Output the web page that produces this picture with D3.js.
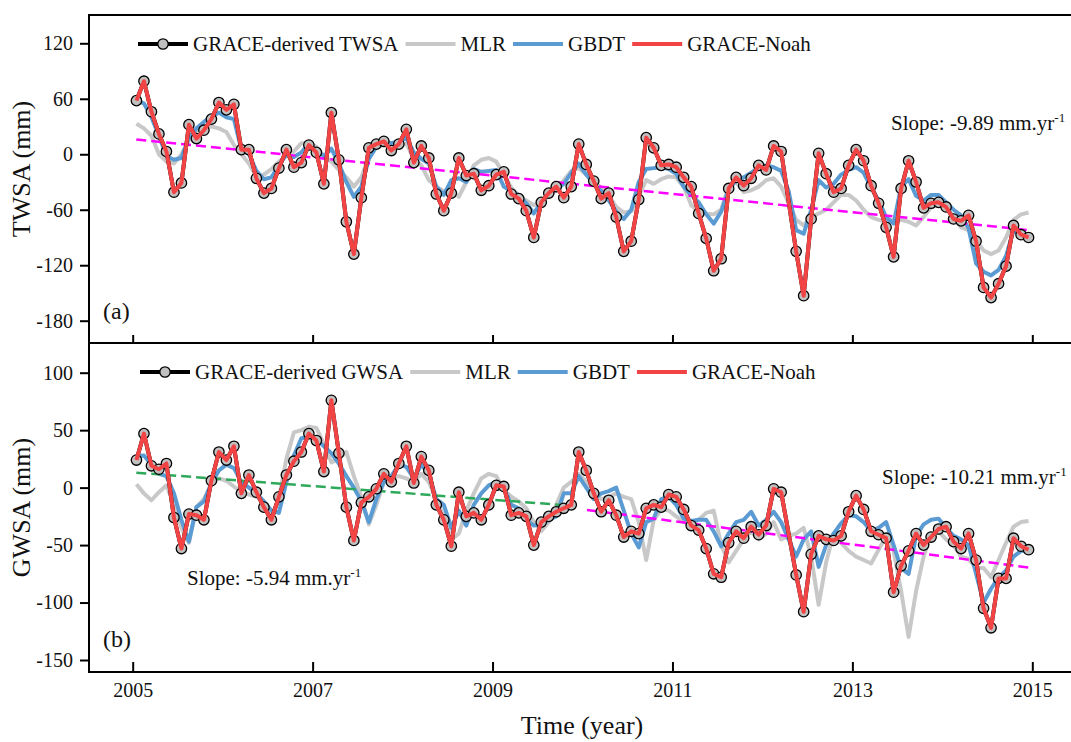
<!DOCTYPE html>
<html><head><meta charset="utf-8">
<script src="https://cdn.jsdelivr.net/npm/d3@7"></script>
<style>
html,body{margin:0;padding:0;background:#fff;}
svg{display:block;}
text{font-family:"Liberation Serif","Times New Roman",serif;fill:#111;}
</style></head>
<body><svg id="c" width="1071" height="742"></svg>
<script>
// ---------------- DATA ----------------
// monthly values Jan 2005 .. Dec 2014 (index 0..119); null = month without GRACE data
const twsaGrace = [58,79,46,22,3,-41,-31,32,17,26,38,56,48,54,5,5,-26,-42,-37,-15,5,-14,-9,10,2,-32,45,-6,-73,-108,-47,7,11,14,4,11,27,-9,9,-4,-43,-61,-42,-4,-23,-21,-39,-34,-22,-19,-43,-48,-61,-90,-52,-42,-35,-47,-35,11,-11,-29,-48,-42,-68,-105,-94,-49,18,7,-12,-11,-14,-25,-35,-64,-91,-126,-113,-37,-25,-34,-26,-12,-17,9,3,null,-105,-153,-70,1,-21,-41,-37,-12,5,-7,-34,-53,-79,-111,-37,-7,-30,-58,-53,-52,-57,-70,-72,-66,-94,-144,-155,-140,-121,-77,-87,-90];
const twsaNoah = twsaGrace.slice();
const twsaMLR = [33,28,20,0,-8,-10,0,15,25,30,30,28,24,10,0,-10,-24,-22,-16,-8,-2,3,12,12,8,-2,-8,-17,-25,-35,-25,-2,8,10,6,8,12,-5,-12,-28,-35,-40,-38,-46,-30,-12,-6,-4,-8,-22,-36,-45,-50,-55,-52,-45,-39,-28,-18,-15,-22,-30,-36,-45,-57,-63,-62,-45,-28,-32,-27,-24,-25,-35,-55,-62,-64,-65,-60,-35,-30,-41,-39,-35,-28,-26,-35,-53,-71,-77,-68,-64,-60,-52,-44,-44,-50,-60,-68,-71,-73,-71,-71,-73,-77,-68,-57,-52,-57,-68,-79,-82,-93,-104,-108,-104,-90,-71,-65,-63];
const twsaGBDT = [58,55,40,20,-2,-6,-4,18,28,35,41,45,40,38,5,0,-18,-27,-25,-12,0,-3,2,12,4,-2,6,-10,-30,-46,-35,-5,8,14,12,14,18,2,-5,-10,-35,-44,-28,-26,-30,-16,-19,-18,-17,-35,-40,-44,-53,-64,-52,-43,-38,-32,-20,-10,-22,-32,-40,-50,-62,-70,-60,-30,-16,-15,-14,-16,-21,-35,-44,-52,-65,-75,-62,-38,-28,-25,-20,-14,-12,-14,-18,-40,-82,-86,-60,-28,-36,-32,-22,-17,-14,-20,-36,-50,-68,-75,-35,-27,-45,-50,-44,-44,-52,-60,-66,-80,-118,-127,-131,-125,-110,-82,-88,-91];

const gwsaGrace = [24,47,19,16,21,-26,-53,-23,-24,-28,6,31,24,36,-5,11,-4,-17,-28,-8,11,23,31,47,41,14,76,30,-17,-46,-13,-8,-1,12,5,21,36,4,27,15,-15,-28,-51,-4,-25,-22,-28,-15,2,1,-24,-22,-25,-50,-30,-25,-21,-18,-15,31,15,-5,-21,-11,-24,-43,-38,-40,-18,-15,-17,-6,-8,-19,-33,-37,-53,-75,-78,-48,-38,-44,-34,-41,-33,-1,-4,null,-76,-108,-58,-42,-45,-46,-42,-21,-7,-19,-38,-41,-44,-91,-68,-55,-40,-50,-43,-36,-34,-47,-53,-40,-63,-105,-122,-79,-79,-44,-51,-54];
const gwsaNoah = gwsaGrace.slice();
const gwsaMLR = [3,-5,-11,-4,2,-15,-35,-48,-17,-10,3,8,6,1,-4,-6,-8,-12,-25,-10,25,48,50,53,52,38,22,25,31,10,-8,-32,-15,5,8,10,8,5,12,5,-10,-25,-45,-40,-20,-5,8,12,10,-2,-8,-12,-18,-30,-38,-30,-15,0,5,12,5,-5,-10,-8,-5,-8,-10,-30,-63,-28,-19,-20,-25,-30,-32,-28,-22,-20,-50,-65,-55,-45,-38,-45,-40,-30,-45,-42,-40,-35,-60,-102,-65,-40,-48,-55,-60,-63,-66,-54,-42,-55,-90,-130,-90,-60,-40,-38,-45,-50,-60,-62,-70,-70,-78,-63,-48,-34,-30,-29];
const gwsaGBDT = [27,28,20,12,10,-5,-28,-47,-17,-12,4,15,20,17,5,0,-5,-12,-20,-22,5,28,43,44,42,36,30,21,10,0,-12,-30,-10,5,10,20,18,8,20,12,-10,-15,-35,-20,-33,-15,-5,2,5,0,-15,-18,-28,-33,-32,-28,-25,-5,-5,10,0,-10,-5,-3,0,-20,-40,-52,-30,-27,-10,-8,-15,-27,-29,-28,-28,-38,-51,-40,-30,-28,-21,-33,-28,-21,-30,-45,-60,-45,-38,-69,-50,-40,-31,-24,-25,-30,-38,-35,-30,-50,-70,-75,-42,-32,-28,-27,-35,-42,-45,-50,-75,-100,-88,-78,-72,-60,-55,-55];

// trend lines: [startYear, startValue, endYear, endValue]
const twsaTrend = [2005.04, 16, 2014.96, -82];
const gwsaTrend1 = [2005.04, 13, 2009.87, -15.7];
const gwsaTrend2 = [2010.05, -19.4, 2014.96, -69.5];

const xTicks = [2005, 2007, 2009, 2011, 2013, 2015];
const twsaTicks = [-180, -120, -60, 0, 60, 120];
const gwsaTicks = [-150, -100, -50, 0, 50, 100];
const legendTop = ["GRACE-derived TWSA", "MLR", "GBDT", "GRACE-Noah"];
const legendBot = ["GRACE-derived GWSA", "MLR", "GBDT", "GRACE-Noah"];

// ---------------- DRAW ----------------
const times = d3.range(120).map(i => 2005 + (i + 0.5) / 12);
const svg = d3.select("#c");
svg.append("rect").attr("width",1071).attr("height",742).attr("fill","#fff");

const L = 89, R = 1076;
const x = d3.scaleLinear().domain([2005, 2015]).range([132.7, 1032.3]);

const C = {mlr:"#c8c8c8", gbdt:"#5b9bd3", red:"#f24444", marker:"#c0c0c0", mag:"#ff00ff", green:"#2ea85a"};
const pairs = arr => arr.map((v,i) => [times[i], v]).filter(p => p[1] !== null);

function panel(cfg) {
  const g = svg.append("g");
  const y = d3.scaleLinear().domain(cfg.ydom).range(cfg.yrange);
  const clipId = "clip" + cfg.id;
  svg.append("clipPath").attr("id", clipId).append("rect")
    .attr("x", L).attr("y", cfg.top).attr("width", R - L).attr("height", cfg.bottom - cfg.top);
  const pg = g.append("g").attr("clip-path", `url(#${clipId})`);
  const line = d3.line().x(p => x(p[0])).y(p => y(p[1]));

  const series = (arr, color) => pg.append("path").datum(pairs(arr)).attr("d", line).attr("fill","none")
    .attr("stroke", color).attr("stroke-width", 4).attr("stroke-linejoin","round");
  series(cfg.mlr, C.mlr);
  series(cfg.gbdt, C.gbdt);
  cfg.trends.forEach(t => {
    pg.append("line").attr("x1", x(t.v[0])).attr("y1", y(t.v[1]))
      .attr("x2", x(t.v[2])).attr("y2", y(t.v[3]))
      .attr("stroke", t.c).attr("stroke-width", 2.5).attr("stroke-dasharray","10,5");
  });
  series(cfg.grace, "#000");
  pg.selectAll("circle.m").data(pairs(cfg.grace)).join("circle").attr("class","m")
    .attr("cx", p => x(p[0])).attr("cy", p => y(p[1])).attr("r", 5.2)
    .attr("fill", C.marker).attr("stroke", "#000").attr("stroke-width", 1.3);
  series(cfg.noah, C.red);

  // y axis
  const ya = g.append("g").attr("transform", `translate(${L},0)`)
    .call(d3.axisLeft(y).tickValues(cfg.yticks).tickSize(9).tickPadding(7).tickSizeOuter(0).tickFormat(d => String(d)));
  ya.select(".domain").remove();
  ya.selectAll(".tick line").attr("stroke","#000").attr("stroke-width",2);
  ya.selectAll(".tick text").style("font-size","20px").style("font-family",'"Liberation Serif",serif').attr("fill","#111");

  // x axis (ticks inward)
  const xa = g.append("g").attr("transform", `translate(0,${cfg.bottom})`)
    .call(d3.axisBottom(x).tickValues(xTicks).tickSize(-cfg.xtick).tickPadding(10.8).tickFormat(d => String(d)).tickSizeOuter(0));
  xa.select(".domain").remove();
  xa.selectAll(".tick line").attr("stroke","#000").attr("stroke-width",2);
  xa.selectAll(".tick text").style("font-size","20px").style("font-family",'"Liberation Serif",serif').attr("fill","#111");
  if (!cfg.xlabels) xa.selectAll(".tick text").remove();

  // frame
  g.append("rect").attr("x", L).attr("y", cfg.top).attr("width", R - L).attr("height", cfg.bottom - cfg.top)
    .attr("fill","none").attr("stroke","#000").attr("stroke-width",2);

  // y title
  g.append("text").attr("transform", `translate(30,${cfg.ytitleY}) rotate(-90)`)
    .attr("text-anchor","middle").style("font-size","26px").text(cfg.ytitle);

  // panel label
  g.append("text").attr("x", 103).attr("y", cfg.labelY).style("font-size","24px").text(cfg.label);

  // legend
  const colors = ["#000", C.mlr, C.gbdt, C.red];
  let lx = cfg.legX;
  cfg.legend.forEach((name, k) => {
    const lg = g.append("g");
    lg.append("line").attr("x1", lx).attr("x2", lx + 50).attr("y1", cfg.legY).attr("y2", cfg.legY)
      .attr("stroke", colors[k]).attr("stroke-width", 4);
    if (k === 0) lg.append("circle").attr("cx", lx + 25).attr("cy", cfg.legY).attr("r", 5.2)
      .attr("fill", C.marker).attr("stroke","#000").attr("stroke-width",1.3);
    const t = lg.append("text").attr("x", lx + 55).attr("y", cfg.legY + 7).style("font-size","21px").text(name);
    lx = lx + 55 + t.node().getComputedTextLength() + 7;
  });

  // slope annotations
  cfg.slopes.forEach(s => {
    const t = g.append("text").attr("x", s.x).attr("y", s.y).style("font-size","21px");
    t.append("tspan").text(s.t);
    t.append("tspan").attr("dy", -8).style("font-size","13px").text("-1");
  });
  return y;
}

panel({id:"a", top:15, bottom:343, ydom:[-180,120], yrange:[320.7,43.3], yticks:twsaTicks,
  grace:twsaGrace, noah:twsaNoah, mlr:twsaMLR, gbdt:twsaGBDT,
  trends:[{v:twsaTrend, c:C.mag}], xtick:8, xlabels:false,
  ytitle:"TWSA (mm)", ytitleY:169, label:"(a)", labelY:319, legend:legendTop, legX:138, legY:44,
  slopes:[{x:891, y:130, t:"Slope: -9.89 mm.yr"}]});

panel({id:"b", top:343, bottom:672, ydom:[-150,100], yrange:[660,372.7], yticks:gwsaTicks,
  grace:gwsaGrace, noah:gwsaNoah, mlr:gwsaMLR, gbdt:gwsaGBDT,
  trends:[{v:gwsaTrend1, c:C.green},{v:gwsaTrend2, c:C.mag}], xtick:10, xlabels:true,
  ytitle:"GWSA (mm)", ytitleY:507.5, label:"(b)", labelY:647, legend:legendBot, legX:140, legY:372,
  slopes:[{x:882, y:484, t:"Slope: -10.21 mm.yr"},{x:187, y:585, t:"Slope: -5.94 mm.yr"}]});

svg.append("text").attr("x", 582).attr("y", 734).attr("text-anchor","middle")
  .style("font-size","26px").text("Time (year)");
</script></body></html>
